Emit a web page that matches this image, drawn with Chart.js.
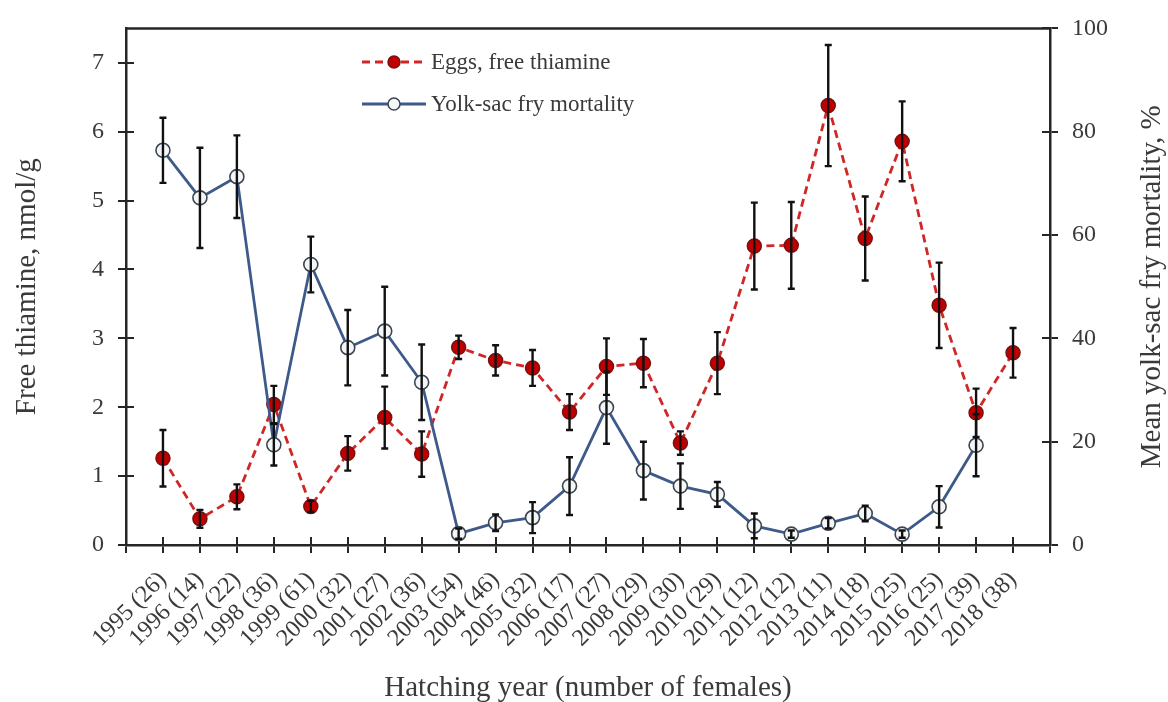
<!DOCTYPE html>
<html>
<head>
<meta charset="utf-8">
<title>Free thiamine and yolk-sac fry mortality</title>
<script src="https://cdn.jsdelivr.net/npm/chart.js@4/dist/chart.umd.min.js"></script>
<style>
  html, body { margin: 0; padding: 0; background: #ffffff; }
  #wrap { width: 1168px; height: 702px; }
</style>
</head>
<body>
<div id="wrap"><canvas id="chart" width="1168" height="702"></canvas></div>
<script>
// Hatching year with number of females sampled
const years = [
  '1995 (26)', '1996 (14)', '1997 (22)', '1998 (36)', '1999 (61)', '2000 (32)',
  '2001 (27)', '2002 (36)', '2003 (54)', '2004 (46)', '2005 (32)', '2006 (17)',
  '2007 (27)', '2008 (29)', '2009 (30)', '2010 (29)', '2011 (12)', '2012 (12)',
  '2013 (11)', '2014 (18)', '2015 (25)', '2016 (25)', '2017 (39)', '2018 (38)'
];

// Eggs, free thiamine (nmol/g) and its error
const thiamine = [
  1.26, 0.38, 0.70, 2.04, 0.56, 1.33, 1.85, 1.32, 2.87, 2.68, 2.57, 1.93,
  2.59, 2.64, 1.48, 2.64, 4.34, 4.35, 6.38, 4.45, 5.86, 3.48, 1.92, 2.79
];
const thiamineErr = [
  0.41, 0.13, 0.18, 0.27, 0.08, 0.25, 0.45, 0.33, 0.17, 0.22, 0.26, 0.26,
  0.41, 0.35, 0.17, 0.45, 0.63, 0.63, 0.88, 0.61, 0.58, 0.62, 0.35, 0.36
];

// Mean yolk-sac fry mortality (%) and its error, 1995-2017
const mortality = [
  76.4, 67.2, 71.3, 19.4, 54.3, 38.2, 41.4, 31.5, 2.2, 4.3, 5.3, 11.4,
  26.6, 14.4, 11.4, 9.8, 3.7, 2.1, 4.2, 6.1, 2.1, 7.4, 19.3
];
const mortalityErr = [
  6.3, 9.7, 8.0, 4.0, 5.4, 7.3, 8.6, 7.3, 1.0, 1.6, 3.0, 5.6,
  7.0, 5.6, 4.4, 2.4, 2.4, 0.7, 1.0, 1.5, 0.7, 4.0, 6.0
];

// Axis ticks
const thiamineTicks = [0, 1, 2, 3, 4, 5, 6, 7];
const mortalityTicks = [0, 20, 40, 60, 80, 100];

// Axis titles and series names
const xTitle = 'Hatching year (number of females)';
const yTitle = 'Free thiamine, nmol/g';
const y2Title = 'Mean yolk-sac fry mortality, %';
const seriesNames = ['Eggs, free thiamine', 'Yolk-sac fry mortality'];

const FONT = '"Liberation Serif", "Times New Roman", serif';
const INK = '#262626';
const TEXT = '#3a3a3a';

const toPoints = (vals) => vals.map((v, i) => ({ x: i + 1, y: v }));

// Frame, inward tick halves, error bars, legend and axis titles
const decorations = {
  id: 'decorations',
  beforeDatasetsDraw(chart) {
    const { ctx, chartArea: a, scales } = chart;
    ctx.save();
    ctx.strokeStyle = INK;
    ctx.lineWidth = 2.5;
    ctx.beginPath();
    ctx.moveTo(a.left - 1, a.top);
    ctx.lineTo(a.right + 1, a.top);
    ctx.stroke();
    ctx.lineWidth = 2;
    ctx.beginPath();
    scales.y.ticks.forEach(t => {
      const p = Math.round(scales.y.getPixelForValue(t.value));
      ctx.moveTo(a.left, p); ctx.lineTo(a.left + 8, p);
    });
    scales.y2.ticks.forEach(t => {
      const p = Math.round(scales.y2.getPixelForValue(t.value));
      ctx.moveTo(a.right, p); ctx.lineTo(a.right - 8, p);
    });
    scales.x.ticks.forEach(t => {
      const p = Math.round(scales.x.getPixelForValue(t.value));
      ctx.moveTo(p, a.bottom); ctx.lineTo(p, a.bottom - 8);
    });
    ctx.stroke();
    ctx.restore();
  },
  afterDatasetsDraw(chart) {
    const { ctx } = chart;
    ctx.save();
    ctx.strokeStyle = '#111111';
    ctx.lineWidth = 2.4;
    chart.data.datasets.forEach((ds) => {
      const ys = chart.scales[ds.yAxisID];
      ds.data.forEach((pt, i) => {
        const e = ds.errors[i];
        const x = chart.scales.x.getPixelForValue(pt.x);
        const y1 = ys.getPixelForValue(pt.y + e);
        const y0 = ys.getPixelForValue(pt.y - e);
        ctx.beginPath();
        ctx.moveTo(x, y1); ctx.lineTo(x, y0);
        ctx.moveTo(x - 3.5, y1); ctx.lineTo(x + 3.5, y1);
        ctx.moveTo(x - 3.5, y0); ctx.lineTo(x + 3.5, y0);
        ctx.stroke();
      });
    });
    ctx.restore();
  },
  afterDraw(chart) {
    const { ctx, chartArea: a } = chart;
    ctx.save();
    // legend
    const rows = [62, 104];
    chart.data.datasets.forEach((ds, di) => {
      const y = rows[di];
      ctx.strokeStyle = ds.borderColor;
      ctx.lineWidth = ds.borderWidth;
      ctx.setLineDash(ds.borderDash || []);
      ctx.beginPath();
      ctx.moveTo(362, y); ctx.lineTo(426, y);
      ctx.stroke();
      ctx.setLineDash([]);
      ctx.beginPath();
      ctx.arc(394, y, 6, 0, Math.PI * 2);
      ctx.fillStyle = ds.pointBackgroundColor;
      ctx.fill();
      ctx.lineWidth = 1.5;
      ctx.strokeStyle = ds.pointBorderColor;
      ctx.stroke();
      ctx.fillStyle = TEXT;
      ctx.font = '23px ' + FONT;
      ctx.textAlign = 'left';
      ctx.textBaseline = 'middle';
      ctx.fillText(ds.label, 431, y + 1);
    });
    // axis titles
    ctx.fillStyle = TEXT;
    ctx.font = '29px ' + FONT;
    ctx.textAlign = 'center';
    ctx.textBaseline = 'middle';
    ctx.fillText(xTitle, (a.left + a.right) / 2, 688);
    ctx.save();
    ctx.translate(27, (a.top + a.bottom) / 2);
    ctx.rotate(-Math.PI / 2);
    ctx.fillText(yTitle, 0, 0);
    ctx.restore();
    ctx.save();
    ctx.translate(1152, (a.top + a.bottom) / 2);
    ctx.rotate(-Math.PI / 2);
    ctx.fillText(y2Title, 0, 0);
    ctx.restore();
    ctx.restore();
  }
};

const axisGrid = {
  display: true,
  drawOnChartArea: false,
  drawTicks: true,
  tickLength: 8,
  color: INK,
  lineWidth: 2
};
const axisBorder = { display: true, color: INK, width: 2.5 };
const tickFont = { family: FONT, size: 24 };

new Chart(document.getElementById('chart'), {
  type: 'line',
  data: {
    datasets: [
      {
        label: seriesNames[0],
        data: toPoints(thiamine),
        errors: thiamineErr,
        yAxisID: 'y',
        borderColor: '#cf2626',
        borderWidth: 2.8,
        borderDash: [8, 5],
        pointRadius: 7,
        pointBackgroundColor: '#c00000',
        pointBorderColor: '#7a1010',
        pointBorderWidth: 1.5,
        tension: 0,
        order: 2
      },
      {
        label: seriesNames[1],
        data: toPoints(mortality),
        errors: mortalityErr,
        yAxisID: 'y2',
        borderColor: '#3d5a8a',
        borderWidth: 2.8,
        pointRadius: 7,
        pointBackgroundColor: '#f4f6f8',
        pointBorderColor: '#3b4650',
        pointBorderWidth: 1.6,
        tension: 0,
        order: 1
      }
    ]
  },
  options: {
    responsive: false,
    devicePixelRatio: 1,
    animation: false,
    layout: { padding: { top: 26, left: 0, right: 0, bottom: 0 } },
    plugins: {
      legend: { display: false },
      tooltip: { enabled: false }
    },
    scales: {
      x: {
        type: 'linear',
        min: 0,
        max: years.length + 1,
        afterBuildTicks: s => { s.ticks = years.map((_, i) => ({ value: i })).concat([{ value: years.length }, { value: years.length + 1 }]); },
        afterFit: s => { s.height = 157; },
        grid: axisGrid,
        border: axisBorder,
        ticks: {
          autoSkip: false,
          minRotation: 45,
          maxRotation: 45,
          padding: 13,
          color: TEXT,
          font: tickFont,
          callback: v => years[v - 1] || ''
        }
      },
      y: {
        position: 'left',
        min: 0,
        max: 7.5,
        afterBuildTicks: s => { s.ticks = thiamineTicks.map(v => ({ value: v })); },
        afterFit: s => { s.width = 126; },
        grid: axisGrid,
        border: axisBorder,
        ticks: { padding: 14, color: TEXT, font: tickFont }
      },
      y2: {
        position: 'right',
        min: 0,
        max: 100,
        afterBuildTicks: s => { s.ticks = mortalityTicks.map(v => ({ value: v })); },
        afterFit: s => { s.width = 118; },
        grid: axisGrid,
        border: axisBorder,
        ticks: { padding: 14, color: TEXT, font: tickFont }
      }
    }
  },
  plugins: [decorations]
});
</script>
</body>
</html>
